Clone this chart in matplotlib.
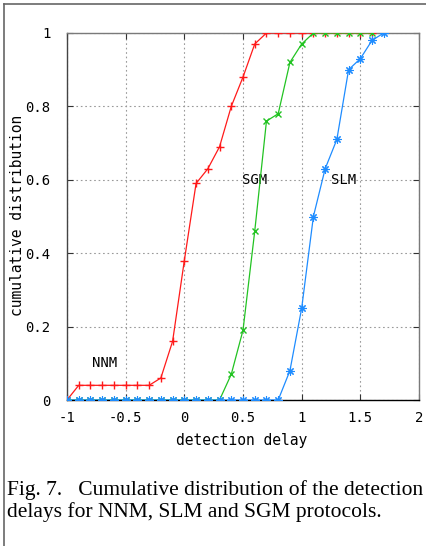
import matplotlib.pyplot as plt
from matplotlib.lines import Line2D

# delay values (same 0.1 grid for all three protocols)
delays = [-1.0, -0.9, -0.8, -0.7, -0.6, -0.5, -0.4, -0.3, -0.2, -0.1,
          0.0, 0.1, 0.2, 0.3, 0.4, 0.5, 0.6, 0.7, 0.8, 0.9,
          1.0, 1.1, 1.2, 1.3, 1.4, 1.5, 1.6, 1.7]

nnm_cdf = [0.0, 0.04, 0.04, 0.04, 0.04, 0.04, 0.04, 0.04, 0.06, 0.16,
           0.38, 0.59, 0.63, 0.69, 0.80, 0.88, 0.97, 1.0, 1.0, 1.0,
           1.0, 1.0, 1.0, 1.0, 1.0, 1.0, 1.0]
sgm_cdf = [0.0, 0.0, 0.0, 0.0, 0.0, 0.0, 0.0, 0.0, 0.0, 0.0,
           0.0, 0.0, 0.0, 0.0, 0.07, 0.19, 0.46, 0.76, 0.78, 0.92,
           0.97, 1.0, 1.0, 1.0, 1.0, 1.0, 1.0]
slm_cdf = [0.0, 0.0, 0.0, 0.0, 0.0, 0.0, 0.0, 0.0, 0.0, 0.0,
           0.0, 0.0, 0.0, 0.0, 0.0, 0.0, 0.0, 0.0, 0.0, 0.08,
           0.25, 0.50, 0.63, 0.71, 0.90, 0.93, 0.98, 1.0]

x_ticks = [-1, -0.5, 0, 0.5, 1, 1.5, 2]
x_tick_labels = ["-1", "-0.5", "0", "0.5", "1", "1.5", "2"]
y_ticks = [0, 0.2, 0.4, 0.6, 0.8, 1]
y_tick_labels = ["0", "0.2", "0.4", "0.6", "0.8", "1"]

caption_lines = ["Fig. 7.   Cumulative distribution of the detection",
                 "delays for NNM, SLM and SGM protocols."]

W, H = 427, 546
mono = "DejaVu Sans Mono"

fig = plt.figure(figsize=(W / 100, H / 100), dpi=100)
ax = fig.add_axes([67 / W, 1 - 400 / H, (419 - 67) / W, (400 - 33) / H])

ax.plot(delays[:len(nnm_cdf)], nnm_cdf, color="#ff1a1a", lw=0.9,
        marker="+", ms=6, mew=1.0, zorder=3)
ax.plot(delays[:len(sgm_cdf)], sgm_cdf, color="#22c322", lw=0.9,
        marker="x", ms=5, mew=1.0, zorder=4)
ax.plot(delays[:len(slm_cdf)], slm_cdf, color="#1e8cff", lw=0.9,
        marker=(8, 2, 0), ms=6, mew=0.8, zorder=5)

ax.set_xlim(-1, 2)
ax.set_ylim(0, 1)
ax.set_xticks(x_ticks)
ax.set_xticklabels(x_tick_labels, fontfamily=mono, fontsize=10)
ax.set_yticks(y_ticks)
ax.set_yticklabels(y_tick_labels, fontfamily=mono, fontsize=10)
ax.tick_params(direction="in", length=4, width=0.8, color="#333333",
               top=True, right=True, pad=8)
ax.tick_params(axis="y", pad=12)

ax.grid(True, color="#9a9a9a", lw=0.8, linestyle=(0, (1.5, 2.5)))
ax.spines["left"].set_color("#444444")
ax.spines["bottom"].set_color("black")
ax.spines["top"].set_color("#7a7a7a")
ax.spines["right"].set_color("#7a7a7a")
for s in ax.spines.values():
    s.set_linewidth(1.0)

ax.text(-0.68, 0.10, "NNM", fontfamily=mono, fontsize=10, ha="center", va="center")
ax.text(0.60, 0.60, "SGM", fontfamily=mono, fontsize=10, ha="center", va="center")
ax.text(1.36, 0.60, "SLM", fontfamily=mono, fontsize=10, ha="center", va="center")

fig.text(242 / W, 1 - 440 / H, "detection delay", fontfamily=mono,
         fontsize=10.5, ha="center", va="center")
fig.text(18 / W, 1 - 215 / H, "cumulative distribution", fontfamily=mono,
         fontsize=10.5, ha="center", va="center", rotation=90)

# caption, one baseline per line
for y_px, line in zip([495, 517], caption_lines):
    fig.text(7 / W, 1 - y_px / H, line, fontfamily="Liberation Serif",
             fontsize=15.5, ha="left", va="baseline")

# page frame visible at the top and left of the crop
fig.add_artist(Line2D([4 / W, 1], [1 - 4 / H, 1 - 4 / H], color="#666666", lw=1.2))
fig.add_artist(Line2D([4 / W, 4 / W], [0, 1 - 4 / H], color="#666666", lw=1.2))

fig.savefig("out.png", dpi=100)
